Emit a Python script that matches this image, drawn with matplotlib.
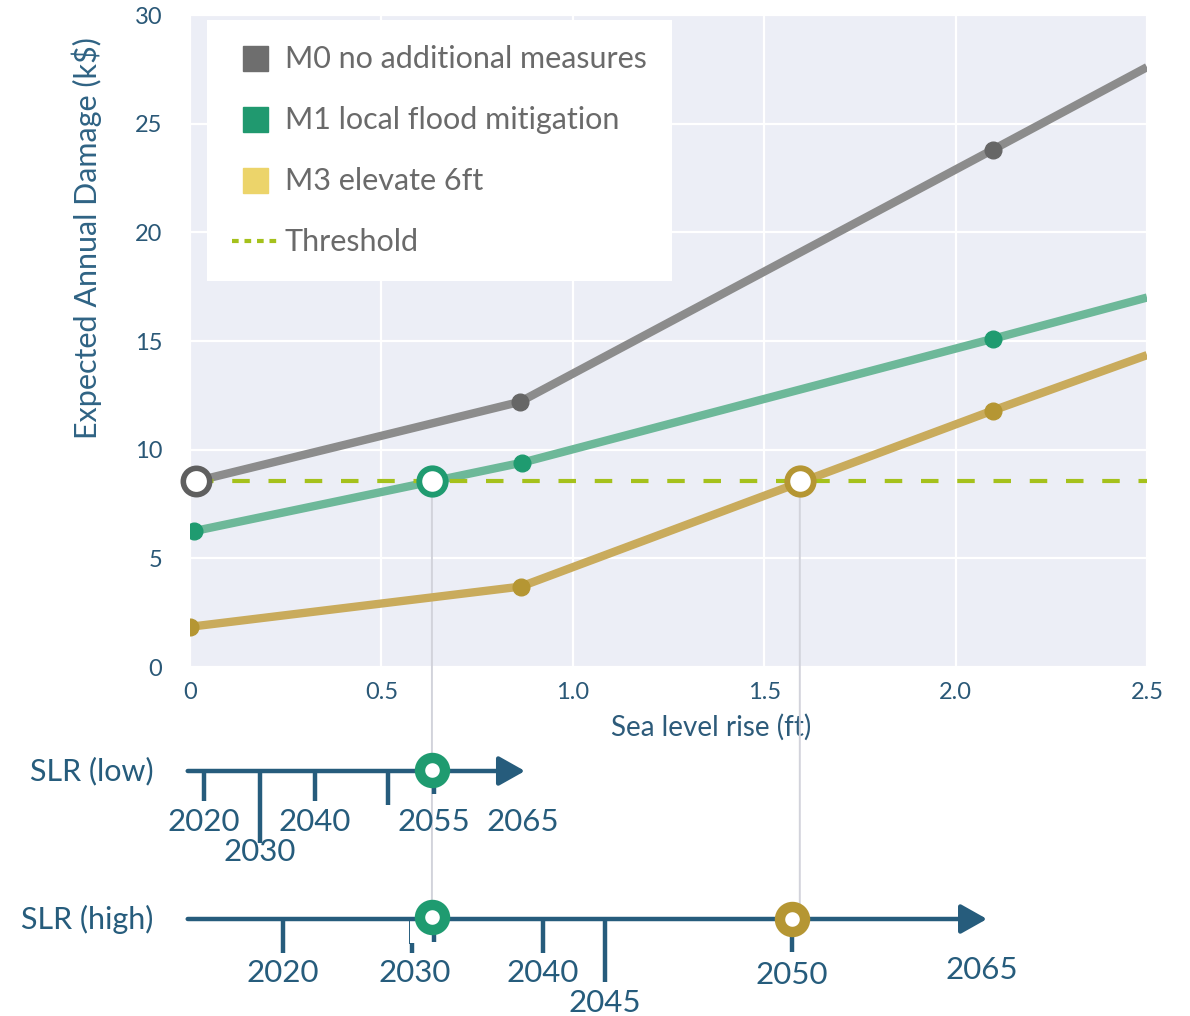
import matplotlib
matplotlib.use("Agg")
import matplotlib.pyplot as plt
from matplotlib.lines import Line2D
from matplotlib.patches import ConnectionPatch

plt.rcParams['font.family'] = ['Lato', 'DejaVu Sans']

# damage curves (k$) vs sea level rise (ft)
m0_x = [0.016, 0.862, 2.097, 2.5]
m0_y = [8.55, 12.2, 23.8, 27.6]
m1_x = [0.01, 0.867, 2.097, 2.5]
m1_y = [6.25, 9.4, 15.1, 17.0]
m3_x = [0.0, 0.864, 2.097, 2.5]
m3_y = [1.85, 3.7, 11.8, 14.35]
threshold = 8.55

# where each measure crosses the threshold (ft)
m1_cross = 0.632
m3_cross = 1.593

# SLR scenario timelines: year -> sea level rise (ft)
low_years = ["2020", "2030", "2040", "", "2055", "2065"]
low_ft = [0.037, 0.183, 0.326, 0.517, 0.637, 0.869]
high_years = ["2020", "2030", "2040", "2045", "2050", "2065"]
high_ft = [0.243, 0.587, 0.922, 1.084, 1.572, 2.068]

c_gray_line, c_gray_dot = "#8c8c8c", "#666666"
c_green_line, c_green_dot = "#6db899", "#1f9b70"
c_yel_line, c_yel_dot = "#c9ab5c", "#b59633"
c_thr = "#a5c11c"
c_blue = "#265c7c"
c_text = "#6a6a6a"

fig = plt.figure(figsize=(11.9, 10.16), dpi=100)
ax = fig.add_axes([190/1190, 1-667/1016, 957/1190, 652/1016])
ax.set_facecolor("#eceef6")
for s in ax.spines.values():
    s.set_visible(False)
ax.set_xlim(0, 2.5)
ax.set_ylim(0, 30)
ax.set_xticks([0, 0.5, 1.0, 1.5, 2.0, 2.5])
ax.set_xticklabels(["0", "0.5", "1.0", "1.5", "2.0", "2.5"])
ax.set_yticks([0, 5, 10, 15, 20, 25, 30])
ax.grid(color="white", lw=1.6)
ax.set_axisbelow(True)
ax.tick_params(length=0, labelsize=17, labelcolor="#2a5877")
ax.tick_params(axis="y", pad=20)
ax.tick_params(axis="x", pad=11)

lw = 6
ax.plot(m0_x, m0_y, color=c_gray_line, lw=lw, solid_capstyle="butt", zorder=2)
ax.plot(m0_x[1:3], m0_y[1:3], "o", color=c_gray_dot, ms=12, zorder=3)
ax.plot(m1_x, m1_y, color=c_green_line, lw=lw, solid_capstyle="butt", zorder=2)
ax.plot(m1_x[:3], m1_y[:3], "o", color=c_green_dot, ms=12, zorder=3)
ax.plot(m3_x, m3_y, color=c_yel_line, lw=lw, solid_capstyle="butt", zorder=2)
ax.plot(m3_x[:3], m3_y[:3], "o", color=c_yel_dot, ms=12, zorder=3)

ax.plot([m0_x[0], 2.5], [threshold, threshold], color=c_thr, lw=3,
        dashes=(4.2, 4.5), zorder=2.5)

# threshold crossings
ax.plot(m0_x[0], threshold, "o", ms=19, mfc="white", mec="#5f5f5f", mew=4, zorder=4, clip_on=False)
ax.plot(m1_cross, threshold, "o", ms=19, mfc="white", mec=c_green_dot, mew=4.2, zorder=4)
ax.plot(m3_cross, threshold, "o", ms=19, mfc="white", mec=c_yel_dot, mew=4.2, zorder=4)

ax.set_ylabel("Expected Annual Damage (k$)", fontsize=22, color="#2f6384")
ax.yaxis.set_label_coords(-0.092, 0.658)
ax.set_xlabel("Sea level rise (ft)", fontsize=20, color="#2d5b7a")
ax.xaxis.set_label_coords(0.545, -0.072)

handles = [
    Line2D([], [], marker="s", ls="none", ms=18, mfc="#6e6e6e", mec="#6e6e6e"),
    Line2D([], [], marker="s", ls="none", ms=18, mfc="#20996f", mec="#20996f"),
    Line2D([], [], marker="s", ls="none", ms=18, mfc="#ecd46a", mec="#ecd46a"),
    Line2D([], [], color=c_thr, lw=3, dashes=(1.6, 1.4)),
]
labels = ["M0 no additional measures", "M1 local flood mitigation",
          "M3 elevate 6ft", "Threshold"]
leg = ax.legend(handles, labels, loc="upper left", bbox_to_anchor=(0.018, 0.992),
                borderaxespad=0, fontsize=22, labelcolor=c_text, frameon=True,
                fancybox=False, framealpha=1, facecolor="white", edgecolor="none",
                handlelength=1.5, handletextpad=0.22, borderpad=0.82, labelspacing=1.08)
leg.set_zorder(5)

# timelines
tl = fig.add_axes([190/1190, 0, 957/1190, 336/1016])
tl.set_xlim(0, 2.5)
tl.set_ylim(1016, 680)
tl.axis("off")

y_low, y_high = 771, 919
tw = 3.2
for y_line, tip in [(y_low, 0.875), (y_high, 2.082)]:
    tl.annotate("", xy=(tip, y_line), xytext=(-0.006, y_line),
                arrowprops=dict(arrowstyle="-|>,head_length=0.8,head_width=0.45",
                                color=c_blue, lw=tw, mutation_scale=20, shrinkA=0, shrinkB=0),
                annotation_clip=False)

# low ticks: (start, end) in rows
low_tick_y = [(y_low, 801), (y_low, 843), (y_low, 801), (y_low, 805), (y_low, 794)]
for x, (y0, y1) in zip(low_ft[:5], low_tick_y):
    tl.plot([x, x], [y0, y1], color=c_blue, lw=tw, solid_capstyle="butt", clip_on=False)
low_label_y = [822, 852, 822, 822, 822, 822]
for x, lab, y in zip(low_ft, low_years, low_label_y):
    tl.text(x, y, lab, ha="center", va="center", fontsize=22.5, color=c_blue)

# high ticks
high_tick_x = [0.243, 0.580, 0.637, 0.922, 1.084, 1.572]
high_tick_y = [(y_high, 953), (943, 953), (y_high, 942), (y_high, 953), (y_high, 982), (y_high, 952)]
for x, (y0, y1) in zip(high_tick_x, high_tick_y):
    tl.plot([x, x], [y0, y1], color=c_blue, lw=tw, solid_capstyle="butt", clip_on=False)
tl.plot([0.573, 0.573], [y_high, 943], color=c_blue, lw=0.7)
high_label_y = [973, 973, 973, 1003, 975, 970]
for x, lab, y in zip(high_ft, high_years, high_label_y):
    tl.text(x, y, lab, ha="center", va="center", fontsize=22.5, color=c_blue)

tl.text(-0.256, y_low, "SLR (low)", ha="center", va="center", fontsize=22, color=c_blue)
tl.text(-0.269, y_high, "SLR (high)", ha="center", va="center", fontsize=22, color=c_blue)

# connectors from crossing points down to the timelines
for xc, yb in [(m1_cross, 905), (m3_cross, 905)]:
    con = ConnectionPatch(xyA=(xc, threshold), coordsA=ax.transData,
                          xyB=(xc, yb), coordsB=tl.transData,
                          color="#d2d3db", lw=1.4, zorder=1.5)
    ax.add_artist(con)
    con.set_clip_on(False)

tl.plot(m1_cross, y_low - 1, "o", ms=18, mfc="white", mec=c_green_dot, mew=7.5, zorder=5)
tl.plot(m1_cross, y_high - 2, "o", ms=18, mfc="white", mec=c_green_dot, mew=7.5, zorder=5)
tl.plot(high_ft[4], y_high, "o", ms=18, mfc="white", mec=c_yel_dot, mew=7.5, zorder=5)

fig.savefig("out.png", dpi=100)
